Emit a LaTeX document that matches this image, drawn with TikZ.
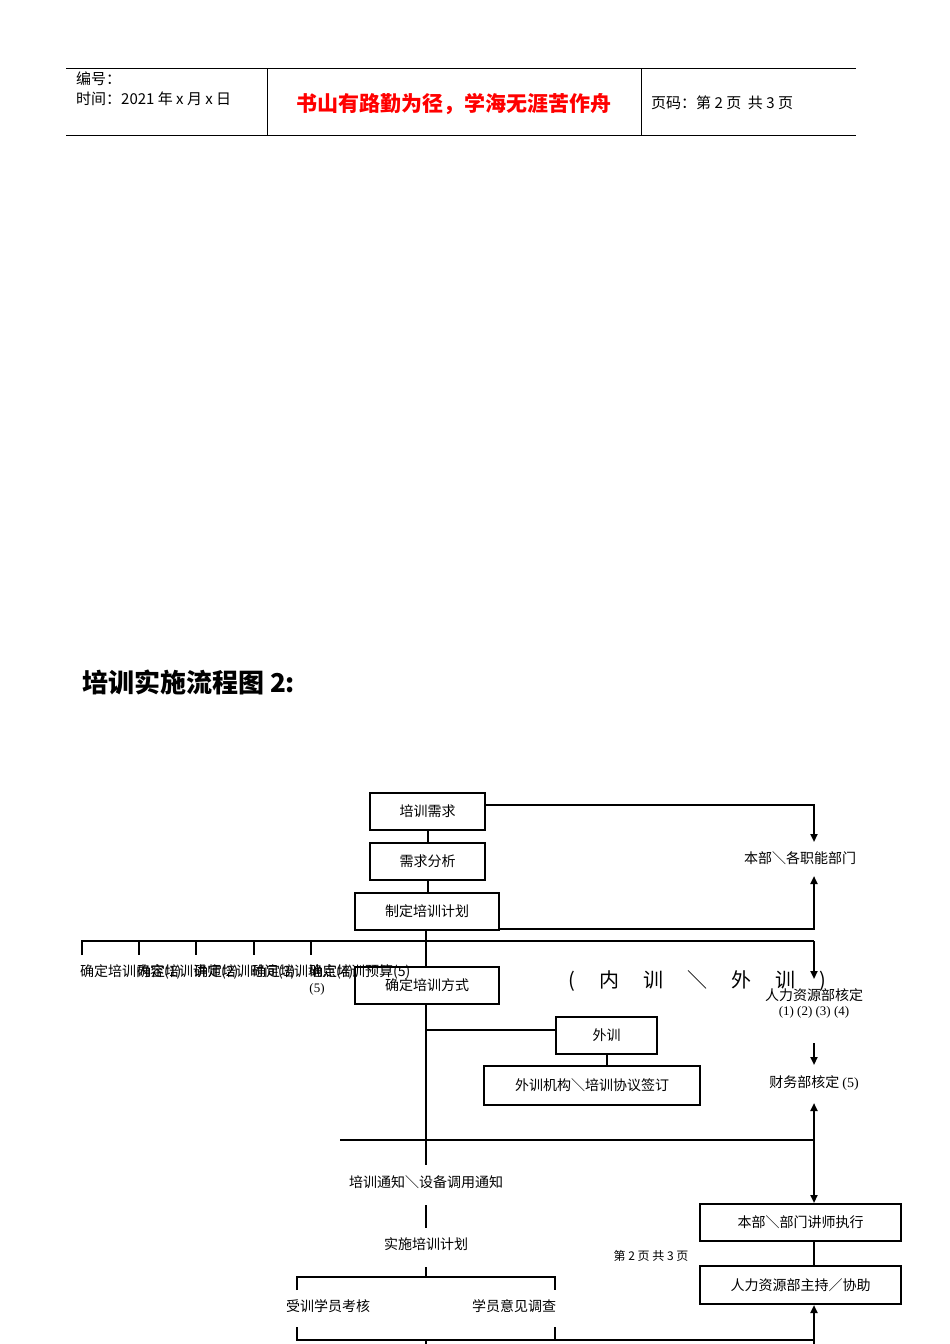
\documentclass[tikz,border=0pt]{standalone}
\usepackage{fontspec}
\setmainfont{Liberation Serif}
\newfontfamily\cjk{Noto Sans CJK SC}
\usetikzlibrary{arrows.meta}
\begin{document}
\begin{tikzpicture}[x=1pt,y=-1pt,
  ln/.style={line width=2pt},
  thin/.style={line width=0.8pt},
  bx/.style={draw,line width=2pt,font=\cjk\fontsize{14}{14}\selectfont,inner sep=0pt,anchor=north west},
  tx/.style={font=\cjk\fontsize{14}{14}\selectfont,inner sep=0pt},
  ar/.style={ln,-{Triangle[length=8pt,width=7pt]}}]
\useasboundingbox (0,0) rectangle (950,1344);
% header
\draw[thin] (66,68) -- (856,68) (66,135) -- (856,135) (267,68) -- (267,135) (641,68) -- (641,135);
\node[tx,anchor=west,font=\cjk\fontsize{15}{15}\selectfont] (h1) at (76,79) {编号：};
\node[tx,anchor=west,font=\cjk\fontsize{15}{15}\selectfont] (h2) at (76,99) {时间：2021 年 x 月 x 日};
\node[tx,font=\cjk\bfseries\fontsize{21}{21}\selectfont,text=red] (h3) at (454,104) {书山有路勤为径，学海无涯苦作舟};
\node[tx,anchor=west,font=\cjk\fontsize{15}{15}\selectfont] (h4) at (651,103) {页码：第 2 页\ \ 共 3 页};
% title
\node[tx,anchor=west,font=\cjk\bfseries\fontsize{26}{26}\selectfont] (title) at (82,682) {培训实施流程图 \textbf{2:}};
% boxes
\node[bx,minimum width=115pt,minimum height=37pt] (a) at (369,792) {培训需求};
\node[bx,minimum width=115pt,minimum height=37pt] (b) at (369,842) {需求分析};
\node[bx,minimum width=144pt,minimum height=37pt] (c) at (354,892) {制定培训计划};
\node[bx,minimum width=144pt,minimum height=37pt] (d) at (354,966) {确定培训方式};
\node[bx,minimum width=101pt,minimum height=37pt] (e) at (555,1016) {外训};
\node[bx,minimum width=216pt,minimum height=39pt] (f) at (483,1065) {外训机构＼培训协议签订};
\node[bx,minimum width=201pt,minimum height=37pt] (g) at (699,1203) {本部＼部门讲师执行};
\node[bx,minimum width=201pt,minimum height=38pt] (h) at (699,1265) {人力资源部主持／协助};
% texts
\node[tx] (t1) at (800,858) {本部＼各职能部门};
\node[tx] (t2) at (814,995) {人力资源部核定};
\node[tx,font=\fontsize{13}{13}\selectfont] (t3) at (814,1012) {(1) (2) (3) (4)};
\node[tx] (t4) at (814,1083) {财务部核定 {\rmfamily(5)}};
\node[tx,font=\cjk\fontsize{20}{20}\selectfont] (t5) at (697,981) {(\hspace{24pt}内\hspace{24pt}训\hspace{24pt}＼\hspace{24pt}外\hspace{24pt}训\hspace{24pt})};
\node[tx] (t6) at (426,1182) {培训通知＼设备调用通知};
\node[tx] (t7) at (426,1244) {实施培训计划};
\node[tx] (t8) at (328,1306) {受训学员考核};
\node[tx] (t9) at (514,1306) {学员意见调查};
\node[tx,font=\cjk\fontsize{12}{12}\selectfont] (t10) at (651,1256) {第 2 页 共 3 页};
\foreach \x/\s [count=\i] in {80/内容,137/讲师,194/时间,252/地点,309/预算}
  \node[tx,anchor=west] (L\i) at (\x,972) {确定培训\s(\i)};
\node[tx,font=\fontsize{13}{13}\selectfont] (L6) at (317,989) {(5)};
% connectors
\coordinate (r1) at (814,805);
\coordinate (r2) at (814,929);
\coordinate (j1) at (426,1030);
\draw[ar] (a.east |- r1) -- (r1) -- (814,842);
\draw[ar] (c.east |- r2) -- (r2) -- (814,876);
\draw[ln] (a.south) -- (b.north);
\draw[ln] (b.south) -- (b.south |- c.north);
\draw[ln] (c.south -| 426,0) -- (d.north -| 426,0);
\draw[ln] (82,955) -- (82,941) -- (814,941);
\foreach \x in {139,196,254,311} \draw[ln] (\x,941) -- (\x,955);
\draw[ar] (814,941) -- (814,979);
\draw[ar] (814,1043) -- (814,1065);
\draw[ln] (d.south -| 426,0) -- (426,1165);
\draw[ln] (j1) -- (j1 -| e.west);
\draw[ln] (e.south) -- (e.south |- f.north);
\draw[ln] (340,1140) -- (814,1140);
\draw[ar] (814,1140) -- (814,1103);
\draw[ar] (814,1140) -- (g.north -| 814,0);
\draw[ln] (g.south -| 814,0) -- (h.north -| 814,0);
\draw[ln] (426,1205) -- (426,1228);
\draw[ln] (426,1267) -- (426,1277);
\draw[ln] (297,1290) -- (297,1277) -- (555,1277) -- (555,1290);
\draw[ln] (297,1327) -- (297,1340) -- (814,1340);
\draw[ln] (555,1327) -- (555,1340);
\draw[ln] (426,1340) -- (426,1344);
\draw[ar] (814,1344) -- (h.south -| 814,0);
\end{tikzpicture}
\end{document}
